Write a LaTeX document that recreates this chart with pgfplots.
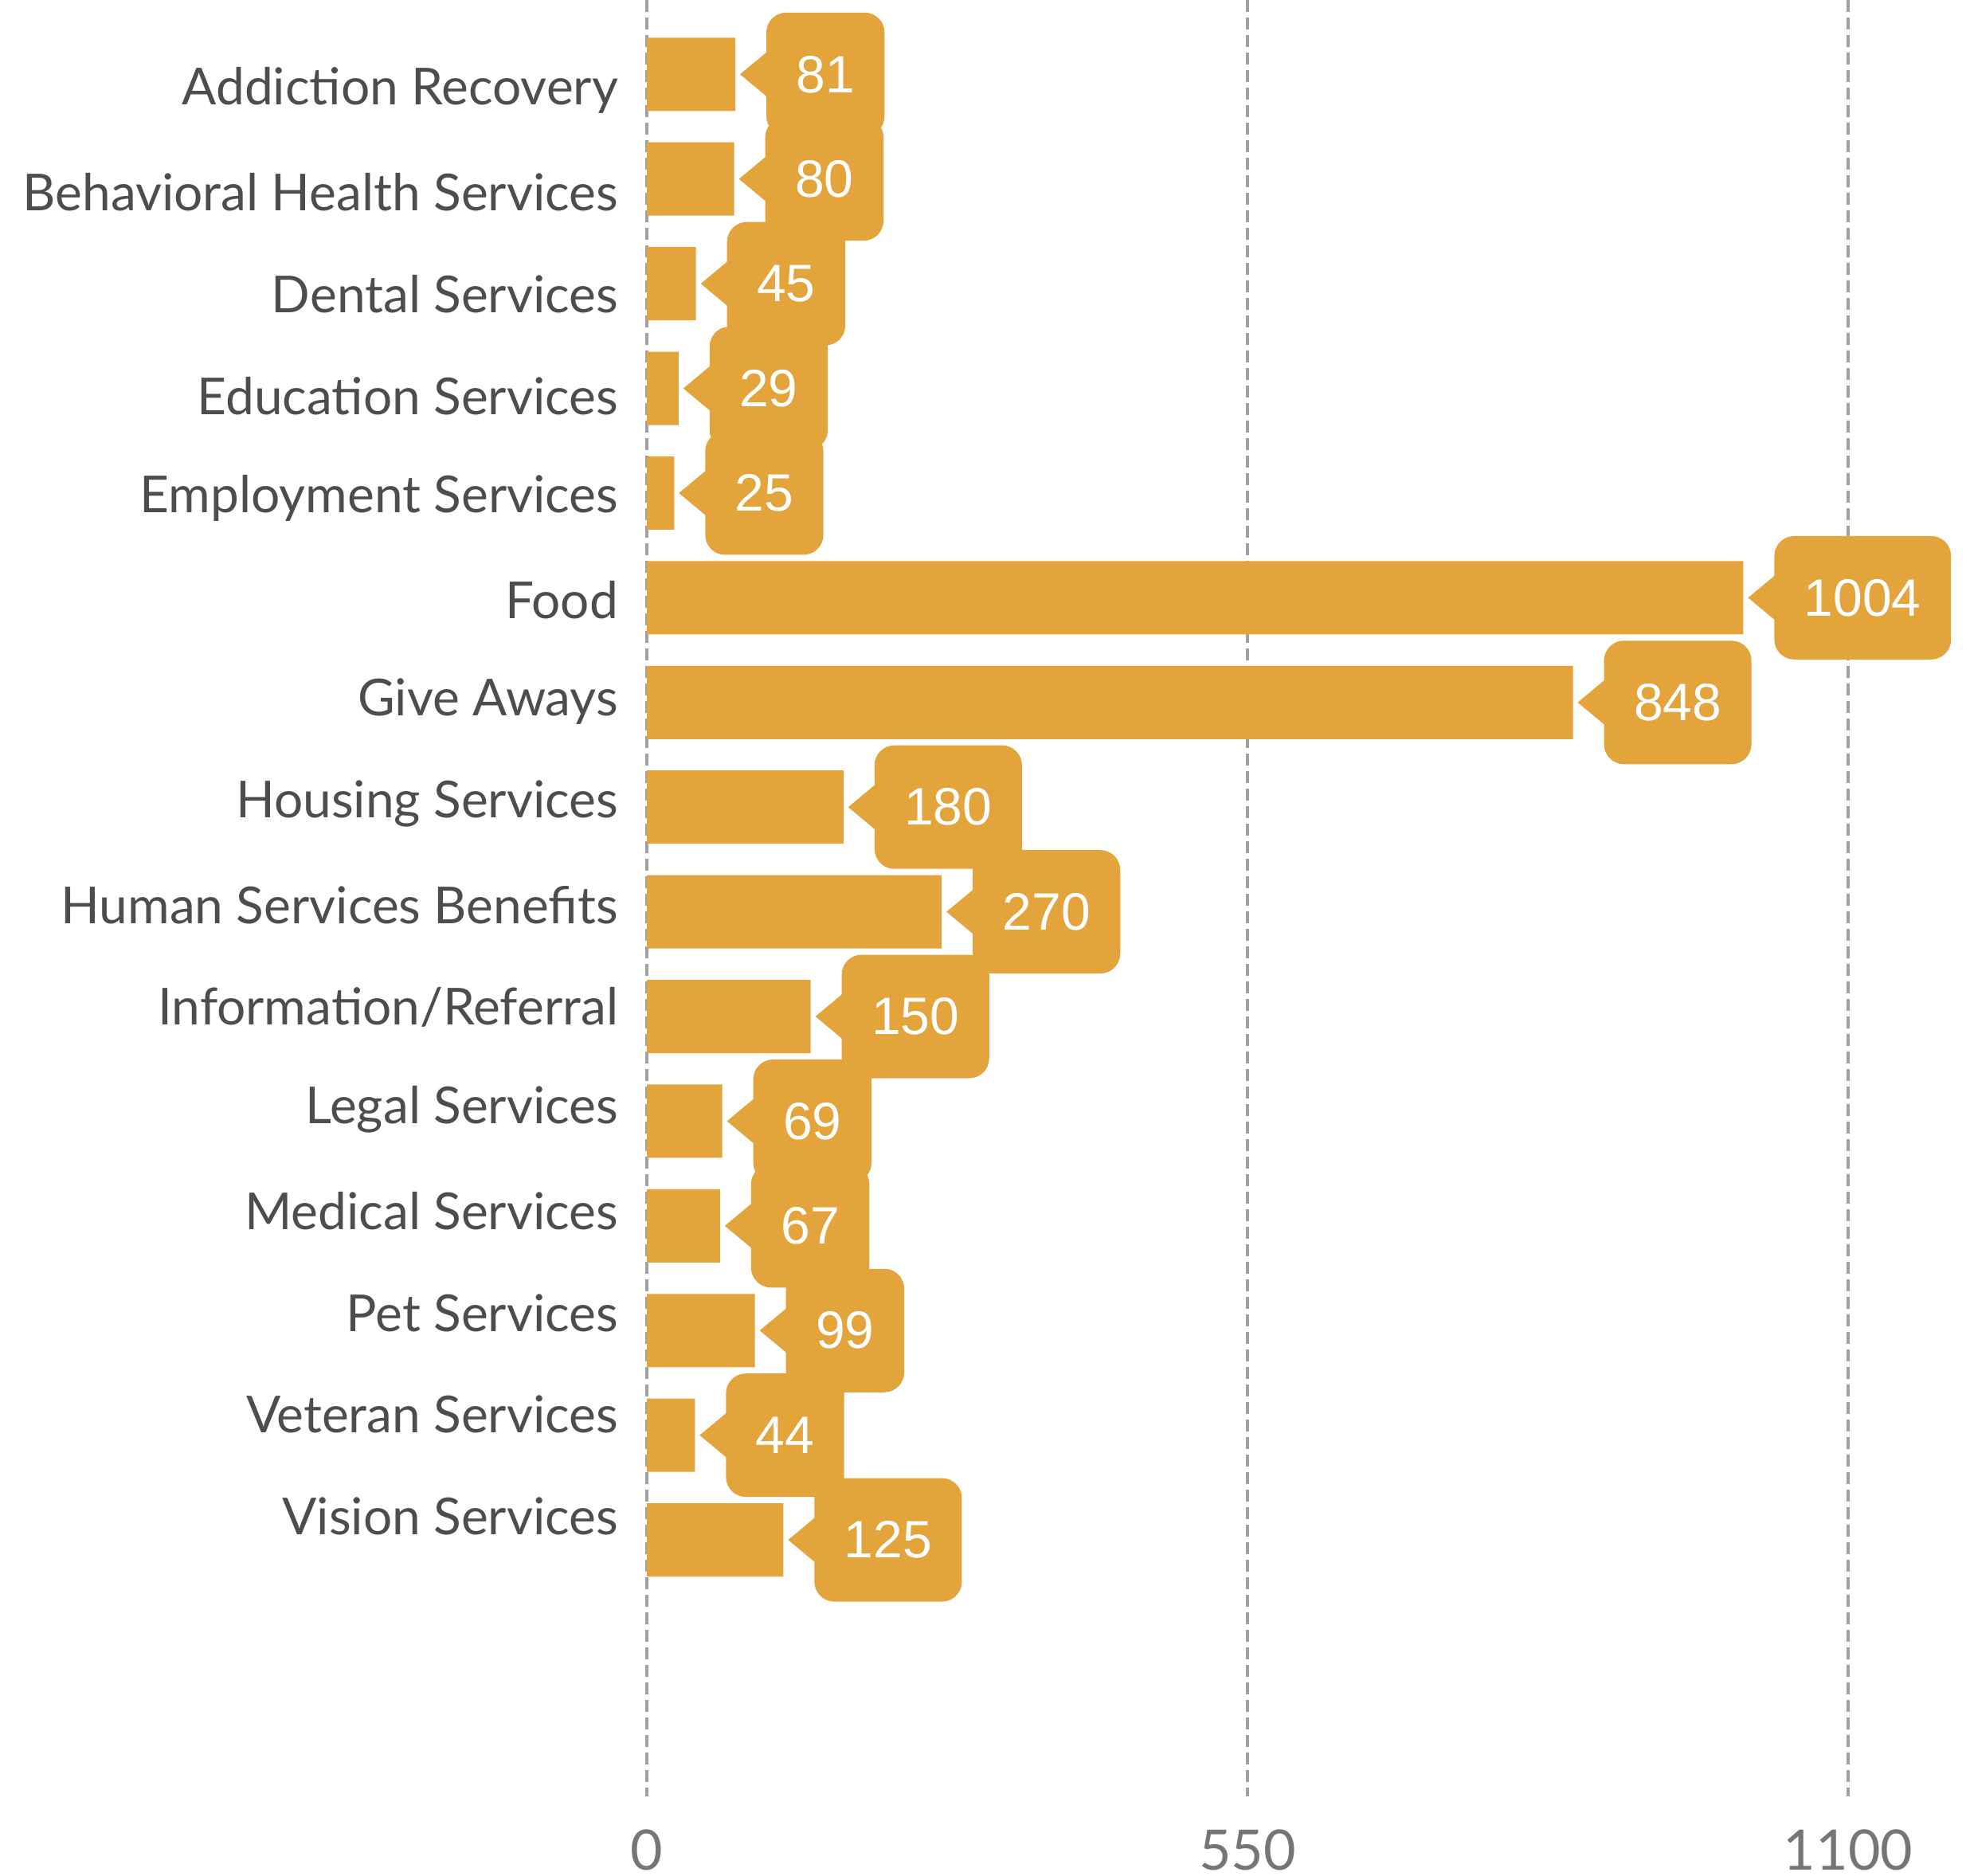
\documentclass[border=0pt]{standalone}
\usepackage{fontspec}
\setmainfont{Lato}
\newfontfamily\valfont{Liberation Sans}
\usepackage{pgfplots}
\pgfplotsset{compat=1.18}
\usepackage{pgfplotstable}
\definecolor{barcol}{RGB}{227,164,59}
\definecolor{labcol}{RGB}{77,77,77}
\definecolor{tickcol}{RGB}{118,118,118}
\definecolor{gridcol}{RGB}{160,160,160}

\pgfdeclareplotmark{callptr}{%
  \pgfpathmoveto{\pgfpoint{1.2bp}{0bp}}%
  \pgfpathlineto{\pgfpoint{9bp}{6.5bp}}%
  \pgfpathlineto{\pgfpoint{9bp}{-6.5bp}}%
  \pgfpathclose
  \pgfusepathqfill
}

\pgfplotstableread[col sep=comma]{
idx,val
0,81
1,80
2,45
3,29
4,25
5,1004
6,848
7,180
8,270
9,150
10,69
11,67
12,99
13,44
14,125
}\datatable

\begin{document}
\begin{tikzpicture}
\useasboundingbox (0,0) rectangle (494.6bp,471bp);
\begin{axis}[
  at={(162.4bp,20bp)}, anchor=south west,
  scale only axis, width=301.6bp, height=451bp,
  xmin=0, xmax=1100, ymin=-0.71, ymax=16.45, y dir=reverse,
  clip=false,
  axis line style={draw=none},
  major tick length=0pt,
  xtick={0,550,1100},
  ytick={0.156,1.129,2.102,3.075,4.048,5.021,5.993,6.966,7.939,8.912,9.885,10.858,11.831,12.804,13.777},
  yticklabels={Addiction Recovery,Behavioral Health Services,Dental Services,Education Services,Employment Services,Food,Give Aways,Housing Services,Human Services Benefits,Information/Referral,Legal Services,Medical Services,Pet Services,Veteran Services,Vision Services},
  xmajorgrids, ymajorgrids=false,
  major grid style={gridcol, dash pattern=on 3bp off 1.4bp, line width=0.7bp},
  /pgf/number format/assume math mode=true,
  /pgf/number format/set thousands separator={},
  xticklabel style={font=\fontsize{14bp}{16bp}\selectfont, text=tickcol, anchor=base, inner sep=0pt, yshift=-18.4bp},
  yticklabel style={font=\fontsize{12.8bp}{15bp}\selectfont, text=labcol, anchor=east, inner sep=0pt, xshift=-7bp},
]
\addplot[
  xbar, bar width=18.4bp, fill=barcol, draw=none,
  mark=callptr, mark options={fill=barcol, draw=none},
  point meta=x,
  nodes near coords={\pgfmathprintnumber[assume math mode=true, set thousands separator={}]{\pgfplotspointmeta}},
  nodes near coords align={horizontal},
  every node near coord/.append style={anchor=west, xshift=7.6bp, fill=barcol, text=white,
     rounded corners=5bp, minimum height=31bp, inner xsep=7.5bp, inner ysep=0pt,
     font=\valfont\fontsize{13.2bp}{15bp}\selectfont},
] table[x=val, y=idx] {\datatable};
\end{axis}
\end{tikzpicture}
\end{document}
